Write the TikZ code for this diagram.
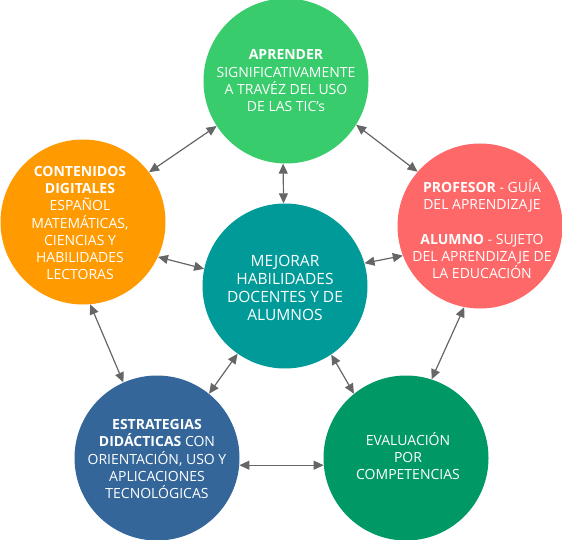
\documentclass[tikz,border=0pt]{standalone}
\usepackage{fontspec}
\setmainfont{Open Sans}
\usetikzlibrary{arrows.meta}
\definecolor{cTop}{HTML}{38CC6C}
\definecolor{cOrange}{HTML}{FF9A00}
\definecolor{cRed}{HTML}{FF6868}
\definecolor{cTeal}{HTML}{009A99}
\definecolor{cBlue}{HTML}{346699}
\definecolor{cGreen}{HTML}{009966}
\definecolor{arrowgray}{HTML}{666666}
\begin{document}
\begin{tikzpicture}[x=1pt,y=-1pt,
  bubble/.style={circle,inner sep=0pt,minimum size=165pt},
  txt/.style={text=white,align=center,inner sep=0pt,font=\fontsize{14}{17.3}\selectfont},
  bigtxt/.style={txt,font=\fontsize{15.5}{17.8}\selectfont},
  link/.style={draw=arrowgray,line width=1.2pt,{Triangle[length=10pt,width=9pt]}-{Triangle[length=10pt,width=9pt]}}]
\useasboundingbox (0,0) rectangle (562,540);
% circles
\node[bubble,fill=cTop] (top) at (286,81) {};
\node[bubble,fill=cOrange] (ora) at (83,222) {};
\node[bubble,fill=cRed] (red) at (480,226) {};
\node[bubble,fill=cTeal] (tea) at (285,286) {};
\node[bubble,fill=cBlue] (blu) at (157,458) {};
\node[bubble,fill=cGreen] (gre) at (406,458) {};
% texts
\node[txt] (topT) at (286,81) {\textbf{APRENDER}\\SIGNIFICATIVAMENTE\\A TRAVÉZ DEL USO\\DE LAS TIC’s};
\node[txt] (oraT) at (80,223) {\textbf{CONTENIDOS}\\\textbf{DIGITALES}\\ESPAÑOL\\MATEMÁTICAS,\\CIENCIAS Y\\HABILIDADES\\LECTORAS};
\node[txt] (redT) at (482,229) {\textbf{PROFESOR} - GUÍA\\DEL APRENDIZAJE\\[17.3pt]\textbf{ALUMNO} - SUJETO\\DEL APRENDIZAJE DE\\LA EDUCACIÓN};
\node[bigtxt] (teaT) at (285,288) {MEJORAR\\HABILIDADES\\DOCENTES Y DE\\ALUMNOS};
\node[txt] (bluT) at (157,459) {\textbf{ESTRATEGIAS}\\\textbf{DIDÁCTICAS} CON\\ORIENTACIÓN, USO Y\\APLICACIONES\\TECNOLÓGICAS};
\node[txt] (greT) at (408,456) {EVALUACIÓN\\POR\\COMPETENCIAS};
% connectors
\draw[link] (top.-147) -- (ora.37);
\draw[link] (top.-32) -- (red.139);
\draw[link] (top.-92) -- (tea.91);
\draw[link] (ora.-25) -- (tea.168);
\draw[link] (red.-159) -- (tea.16);
\draw[link] (ora.-85) -- (blu.114);
\draw[link] (red.-101) -- (gre.72);
\draw[link] (tea.-125) -- (blu.51);
\draw[link] (tea.-56) -- (gre.129);
\draw[link] (blu.-5.4) -- (gre.185.6);
\end{tikzpicture}
\end{document}
